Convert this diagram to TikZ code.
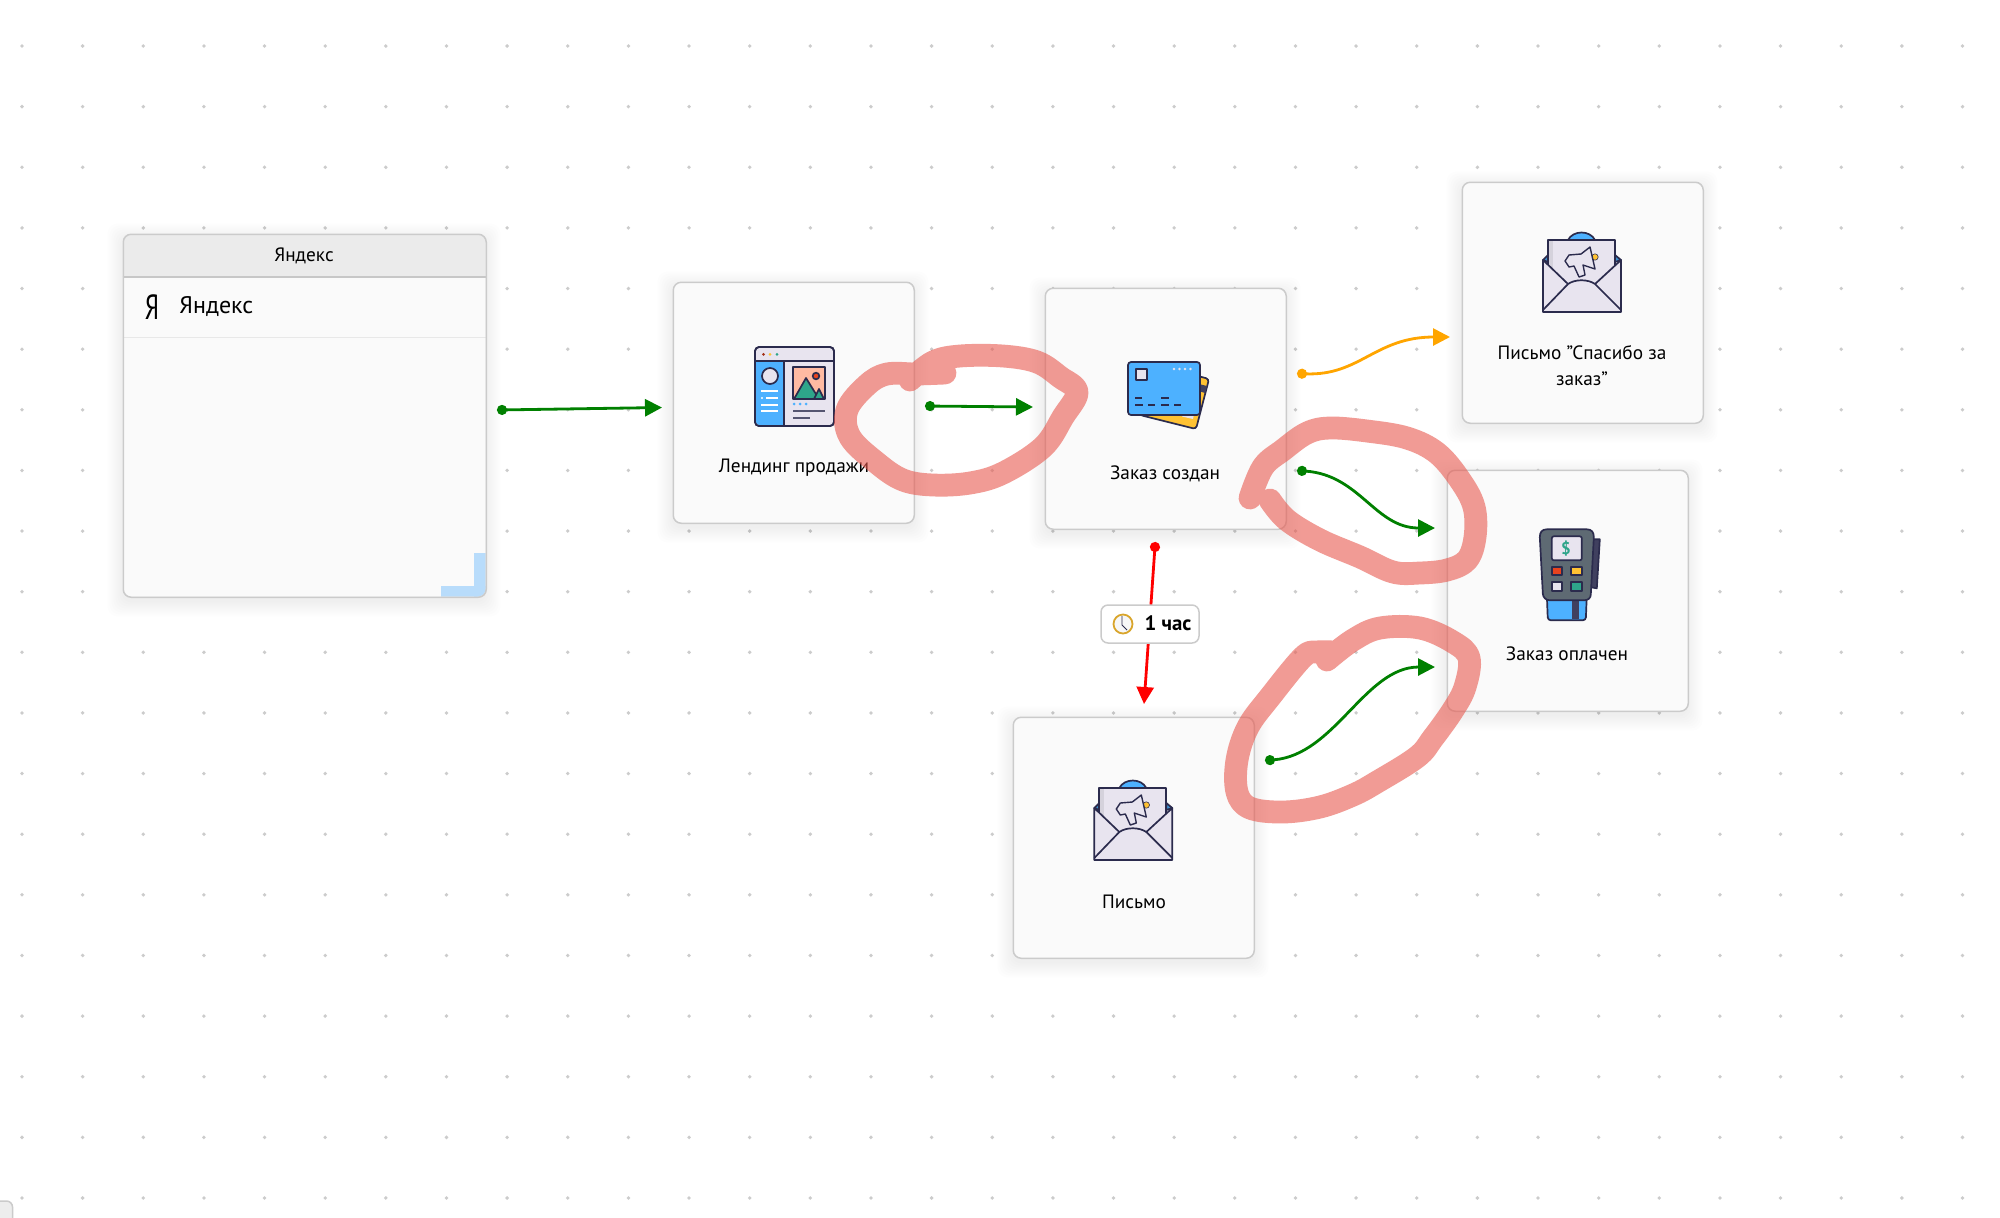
\documentclass[tikz,border=0pt]{standalone}
\usepackage{fontspec}
\setmainfont{PT Sans}
\usetikzlibrary{arrows.meta}
\definecolor{ink}{HTML}{2B2B4D}
\definecolor{paperc}{HTML}{E8E4EF}
\definecolor{bluec}{HTML}{4DB1FF}
\definecolor{yellowc}{HTML}{FFC233}
\definecolor{greenc}{HTML}{2EA58A}
\definecolor{redc}{HTML}{E8431F}
\definecolor{greyc}{HTML}{5E6A73}
\definecolor{cardfill}{HTML}{FAFAFA}
\definecolor{cardline}{HTML}{CBCBCB}
\definecolor{pinkc}{HTML}{E8594F}
\definecolor{arrowgreen}{HTML}{008000}
\definecolor{arroworange}{HTML}{FFA500}
\definecolor{arrowred}{HTML}{FF0000}
\definecolor{cornerblue}{HTML}{B8DCFB}
\newcommand{\softshadow}[4]{%
  \foreach \r in {1,3,...,15}{%
    \fill[black,opacity=.007,rounded corners=5pt]
      ({#1-\r},{#2-\r+5}) rectangle ({#1+#3+\r},{#2+#4+\r+5});
  }}
\tikzset{
  cardbox/.style={rectangle,draw=cardline,fill=cardfill,line width=.75pt,rounded corners=4pt,
    minimum width=120.5pt,minimum height=120.5pt,anchor=north west,inner sep=0pt},
  lbl/.style={font=\fontsize{9.65}{13}\selectfont,text=black,align=center,inner sep=0pt},
  conn/.style={line width=1.4pt,{Circle[length=5pt]}-{Triangle[length=8.5pt,width=8.5pt]}},
  loopmark/.style={draw=pinkc,opacity=.6,line width=11.4pt,line cap=round,line join=round},
  icon/.style={draw=ink,line width=.85pt,line join=round},
  envicon/.pic={
    \fill[icon,fill=bluec] (26,8) .. controls (31,-2) and (48,-2) .. (53,8) -- cycle;
    \fill[icon,fill=bluec!80!black] (1,28) -- (6,23) -- (6,30) -- cycle;
    \fill[icon,fill=bluec!80!black] (79,28) -- (73,23) -- (73,30) -- cycle;
    \fill[icon,fill=paperc] (6,8) rectangle (73,54);
    \fill[paperc!92!black] (7,9) rectangle (11,50);
    \fill[icon,fill=yellowc,line width=.3pt] (53,25) circle (3.2);
    \fill[icon,fill=paperc,line width=.7pt] (23,29) -- (27,23) -- (39,22) -- (48,15) -- (53,37) -- (41,33)
      -- (43,43) -- (37,45) -- (32,34) -- (27,35) -- cycle;
    \fill[icon,fill=paperc] (1,28) -- (26,52) .. controls (33,47) and (46,47) .. (53,52) -- (79,28) -- (79,80) -- (1,80) -- cycle;
    \draw[icon] (1,78) -- (26,52);
    \draw[icon] (79,78) -- (53,52);
  },
  pageicon/.pic={
    \fill[icon,fill=paperc,rounded corners=2pt] (0,0) rectangle (79,79);
    \fill[bluec,rounded corners=1.5pt] (1,15) rectangle (29,78);
    \fill[bluec] (15,15) rectangle (29,78);
    \fill[bluec] (1,15) rectangle (29,30);
    \draw[icon] (0,14) -- (79,14);
    \draw[icon] (29,14) -- (29,79);
    \draw[icon,rounded corners=2pt] (0,0) rectangle (79,79);
    \fill[redc!70!black] (8.5,7.3) circle (1.5);
    \fill[yellowc] (15,7.3) circle (1.5);
    \fill[greenc] (22,7.3) circle (1.5);
    \fill[icon,fill=paperc] (15,29) circle (8);
    \foreach \yy in {44,58,64}{\draw[white,line width=.75pt] (6,\yy) -- (23,\yy);}
    \draw[white,line width=.75pt] (11,51) -- (23,51);
    \fill[white] (7,51) circle (1.1);
    \fill[icon,fill=red!15!yellowc!20!pink] (38,20) rectangle (70,52);
    \fill[icon,fill=greenc] (39,52) -- (51,31) -- (64,52) -- cycle;
    \fill[icon,fill=greenc] (59,52) -- (64,42) -- (69,52) -- cycle;
    \fill[icon,fill=redc] (61,29) circle (3.3);
    \foreach \xx in {39,45,51}{\fill[bluec] (\xx,57) circle (1.5);}
    \draw[ink!80,line width=.8pt] (38,64) -- (70,64);
    \draw[ink!80,line width=.8pt] (38,71) -- (55,71);
  },
  cardsicon/.pic={
    \fill[icon,fill=yellowc,rounded corners=1.5pt] (12,53) -- (68,67) -- (81,17) -- (70,14) -- (70,52) -- cycle;
    \fill[ink!90] (71,22) -- (79,24) -- (77,31) -- (71,29) -- cycle;
    \fill[paperc] (54,52) -- (66,52) -- (65,57) -- (54,54.5) -- cycle;
    \fill[icon,fill=bluec,rounded corners=1.5pt] (0,0) rectangle (72,53);
    \fill[icon,fill=paperc] (8,7) rectangle (19,18);
    \foreach \xx in {46,51.5,57,62.5}{\fill[paperc] (\xx,7) circle (1.3);}
    \foreach \aa/\bb in {7/14,33/41}{\draw[ink,line width=.8pt] (\aa,36) -- (\bb,36);}
    \foreach \aa/\bb in {7/15,20/27,33/41,46/53}{\draw[ink,line width=.8pt] (\aa,43) -- (\bb,43);}
  },
  posicon/.pic={
    \fill[icon,fill=ink!90] (52,11) -- (60,11) -- (57,60) -- (51,59) -- cycle;
    \fill[icon,fill=bluec,rounded corners=1.5pt] (7,66) -- (47,66) -- (46,92) -- (8,92) -- cycle;
    \fill[ink!90] (32,71) rectangle (39,91);
    \fill[icon,fill=greyc] (7,1) -- (47,1) .. controls (52,1) and (54,4) .. (54,9) -- (51,66)
      .. controls (51,70) and (48,72) .. (44,72) -- (10,72) .. controls (6,72) and (3,69) .. (3,65)
      -- (0,9) .. controls (0,4) and (2,1) .. (7,1) -- cycle;
    \fill[icon,fill=paperc,rounded corners=1pt] (12,8) rectangle (42,32);
    \fill[icon,fill=redc] (12,39) rectangle (22,47);
    \fill[icon,fill=yellowc] (31,39) rectangle (42,47);
    \fill[icon,fill=paperc] (12,54) rectangle (22,63);
    \fill[icon,fill=greenc] (31,54) rectangle (42,63);
  },
}
\begin{document}
\begin{tikzpicture}[x=.5pt,y=-.5pt]
\useasboundingbox (0,0) rectangle (2000,1217);
\fill[white] (0,0) rectangle (2000,1217);
% dotted grid
\foreach \i in {0,...,32}{\foreach \j in {0,...,19}{
  \fill[black!20] ({22+60.64*\i},{46+60.63*\j}) circle (1.9);
}}
% corner stub
\draw[fill=black!7,draw=cardline,line width=.75pt,rounded corners=3pt] (-10,1201) rectangle (12.5,1240);
% shadows
\softshadow{122.5}{233.5}{363}{363}
\softshadow{672.5}{281.5}{241}{241}
\softshadow{1044.5}{287.5}{241}{241}
\softshadow{1461.5}{181.5}{241}{241}
\softshadow{1446.5}{469.5}{241}{241}
\softshadow{1012.5}{716.5}{241}{241}
% Yandex panel
\fill[cardfill,rounded corners=4pt] (122.5,233.5) rectangle (485.5,596.5);
\begin{scope}
  \clip[rounded corners=4pt] (122.5,233.5) rectangle (485.5,596.5);
  \fill[black!8] (122.5,233.5) rectangle (485.5,277);
  \fill[cornerblue] (441,586) rectangle (485.5,596.5);
  \fill[cornerblue] (474,553) rectangle (485.5,596.5);
\end{scope}
\draw[black!22,line width=.7pt] (122.5,277) -- (485.5,277);
\draw[black!9,line width=.5pt] (122.5,337) -- (485.5,337);
\node[cardbox,fill=none,minimum width=181.5pt,minimum height=181.5pt] (yandexbox) at (122.5,233.5) {};
\node[lbl] (yandexhead) at (304,256) {Яндекс};
\node[inner sep=0pt,font=\fontsize{17.5}{17.5}\selectfont] (yandexlogo) at (152,307) {\scalebox{.72}[1]{Я}};
\node[lbl,anchor=west,font=\fontsize{12}{14}\selectfont] (yandexitem) at (179,307) {Яндекс};
% cards
\node[cardbox] (landing) at (672.5,281.5) {};
\node[cardbox] (created) at (1044.5,287.5) {};
\node[cardbox] (thanks) at (1461.5,181.5) {};
\node[cardbox] (paid) at (1446.5,469.5) {};
\node[cardbox] (letter) at (1012.5,716.5) {};
\pic at (755,347) {pageicon};
\pic at (1128,362) {cardsicon};
\pic at (1542,232) {envicon};
\pic at (1539.8,528.3) {posicon};
\pic at (1093.3,780) {envicon};
\node[inner sep=0pt,text=greenc,font=\fontsize{8.5}{10}\bfseries\selectfont] (dollar) at (1566,549) {\$};
\node[lbl] (landinglabel) at (794,467.5) {Лендинг продажи};
\node[lbl] (createdlabel) at (1165,473.5) {Заказ создан};
\node[lbl] (thankslabel) at (1582,365.5) {Письмо "Спасибо за\\заказ"};
\node[lbl] (paidlabel) at (1567,654) {Заказ оплачен};
\node[lbl] (letterlabel) at (1134,901.5) {Письмо};
% connector ends
\coordinate (a1) at (497,410); \coordinate (b1) at (662,407.5);
\coordinate (a2) at (925,406); \coordinate (b2) at (1033,407);
\coordinate (a3) at (1297,373.5); \coordinate (b3) at (1450,337);
\coordinate (a4) at (1297,470.5); \coordinate (b4) at (1435,528);
\coordinate (a5) at (1265,760.5); \coordinate (b5) at (1435,667);
\coordinate (a6) at (1155.3,542); \coordinate (b6) at (1144,704);
\draw[conn,arrowgreen] (a1) -- (b1);
\draw[conn,arrowgreen] (a2) -- (b2);
\draw[conn,arroworange] (a3) .. controls (1360,376) and (1375,337) .. (b3);
\draw[conn,arrowgreen] (a4) .. controls (1360,475) and (1375,528) .. (b4);
\draw[conn,arrowgreen] (a5) .. controls (1335,755) and (1365,667) .. (b5);
\draw[conn,arrowred] (a6) -- (b6);
% delay badge
\node[rectangle,draw=cardline,fill=white,line width=.75pt,rounded corners=3.5pt,minimum width=49pt,minimum height=19pt,inner sep=0pt] (delay) at (1150,624) {};
\draw[draw=yellowc!85!black,fill=black!3,line width=.9pt] (1123,624) circle (9.5);
\draw[ink,line width=.45pt] (1122,616) -- (1122,625) -- (1127,630);
\node[inner sep=0pt,font=\fontsize{10.4}{12}\bfseries\selectfont] (delaytext) at (1168,623.5) {1 час};
% hand drawn loops
\draw[loopmark] plot[smooth,tension=.6] coordinates {(945,373) (917,374) (887,374) (867,385) (847,410) (850,437) (877,463) (903,480) (933,485) (970,483) (1003,473) (1043,447) (1063,417) (1077,392) (1060,377) (1037,362) (1003,356) (960,356) (933,362) (910,380)};
\draw[loopmark] plot[smooth,tension=.6] coordinates {(1270,500) (1287,520) (1320,540) (1360,557) (1393,572) (1420,573) (1447,570) (1467,560) (1475,537) (1474,507) (1460,480) (1437,453) (1407,438) (1367,431) (1330,428) (1307,433) (1283,450) (1263,467) (1250,498)};
\draw[loopmark] plot[smooth,tension=.6] coordinates {(1327,660) (1353,640) (1380,628) (1420,628) (1453,642) (1469,658) (1465,687) (1453,710) (1433,738) (1417,757) (1377,782) (1353,795) (1320,807) (1283,812) (1250,808) (1237,792) (1237,760) (1248,727) (1270,697) (1303,657) (1317,652) (1333,652)};
\end{tikzpicture}
\end{document}
